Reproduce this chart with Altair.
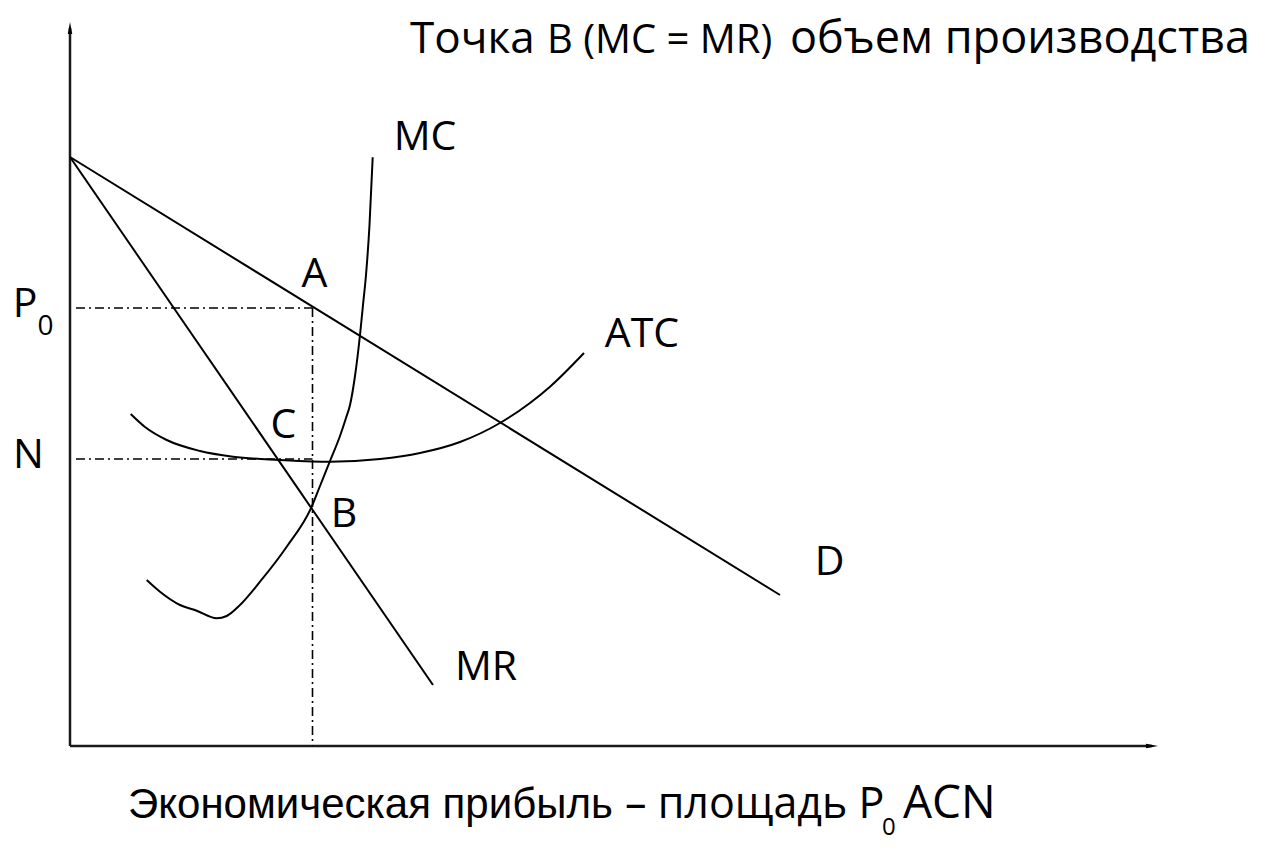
import altair as alt
import pandas as pd

# ---- data (Q = quantity, P = price; origin at the axes corner) ----
d_q = [0.0, 71.0]
d_p = [58.9, 15.1]
mr_q = [0.0, 36.3]
mr_p = [58.9, 6.1]
mc_q = [7.67, 9.0, 11.0, 12.67, 14.67, 15.67, 17.0, 19.0, 21.67, 24.17,
        25.0, 26.0, 27.0, 27.6, 28.0, 28.5, 29.0, 29.3, 29.6, 29.95, 30.27]
mc_p = [16.6, 15.43, 14.1, 13.53, 12.77, 13.0, 14.1, 16.43, 19.93, 23.93,
        26.0, 28.5, 31.0, 32.8, 34.1, 37.0, 41.1, 44.1, 47.1, 52.1, 58.87]
atc_q = [6.07, 7.5, 9.67, 13.0, 16.3, 20.9, 24.2, 26.0, 31.0, 35.0, 39.0,
         43.0, 46.0, 48.0, 51.4]
atc_p = [33.2, 31.9, 30.6, 29.5, 28.93, 28.6, 28.45, 28.43, 28.7, 29.3,
         30.4, 32.3, 34.3, 35.93, 39.3]
q_star = 24.25
p0_level = 43.8
n_level = 28.7
guide_start = 0.6
axis_q_end = 108.2
axis_p_end = 71.8

curve_labels = ["MC", "A", "P", "N", "C", "B", "MR", "ATC", "D"]
curve_label_q = [35.5, 24.45, -4.5, -4.15, 21.35, 27.4, 41.6, 57.2, 75.95]
curve_label_p = [59.6, 45.9, 42.9, 27.8, 30.8, 21.9, 6.6, 39.9, 17.1]

sub_labels = ["0"]
sub_label_q = [-2.45]
sub_label_p = [41.1]

title_parts = ["Точка", "B (MC = MR)", "объем производства"]
title_q = [34.0, 47.7, 72.0]
title_p = [69.3, 69.3, 69.3]
title_sizes = [44, 40, 45]

bottom_parts = ["Экономическая прибыль", "– площадь P", "ACN"]
bottom_q = [5.8, 55.5, 83.3]
bottom_p = [-7.2, -7.2, -7.2]
bottom_fonts = ["Liberation Sans", "Open Sans", "Open Sans"]
bottom_sizes = [42, 43, 46]
bottom_sub = "0"
bottom_sub_q = [81.2]
bottom_sub_p = [-8.9]

# ---- scales (fixed, so the diagram keeps its geometry) ----
xs = alt.Scale(domain=[-6.2, 118.8], nice=False, zero=False)
ys = alt.Scale(domain=[-10.8, 73.8], nice=False, zero=False)
X = lambda f: alt.X(f, type="quantitative", scale=xs, axis=None)
Y = lambda f: alt.Y(f, type="quantitative", scale=ys, axis=None)


def line_df(qs, ps):
    return pd.DataFrame({"q": qs, "p": ps, "i": list(range(len(qs)))})


def curve(qs, ps, interp="linear"):
    return alt.Chart(line_df(qs, ps)).mark_line(
        color="black", strokeWidth=2, interpolate=interp
    ).encode(x=X("q"), y=Y("p"), order="i:Q")


layers = []

# axes
axes_df = pd.DataFrame({
    "q": [0.0, 0.0], "p": [0.0, 0.0],
    "q2": [0.0, axis_q_end], "p2": [axis_p_end, 0.0],
})
layers.append(alt.Chart(axes_df).mark_rule(color="#1a1a1a", strokeWidth=2.5).encode(
    x=X("q"), y=Y("p"), x2="q2", y2="p2"))
layers.append(alt.Chart(pd.DataFrame({"q": [0.0], "p": [axis_p_end]})).mark_point(
    shape="M0,-1L0.375,1L-0.375,1Z", size=144, filled=True, color="black", opacity=1
).encode(x=X("q"), y=Y("p")))
layers.append(alt.Chart(pd.DataFrame({"q": [axis_q_end], "p": [0.0]})).mark_point(
    shape="M1,0L-1,-0.375L-1,0.375Z", size=144, filled=True, color="black", opacity=1
).encode(x=X("q"), y=Y("p")))

# dash-dot guides
guides_df = pd.DataFrame({
    "q": [guide_start, guide_start, q_star],
    "p": [p0_level, n_level, p0_level],
    "q2": [q_star, q_star, q_star],
    "p2": [p0_level, n_level, 0.0],
})
layers.append(alt.Chart(guides_df).mark_rule(
    color="black", strokeWidth=1.6, strokeDash=[9, 4, 2, 4]
).encode(x=X("q"), y=Y("p"), x2="q2", y2="p2"))

# curves
layers.append(curve(d_q, d_p))
layers.append(curve(mr_q, mr_p))
layers.append(curve(mc_q, mc_p, "monotone"))
layers.append(curve(atc_q, atc_p, "monotone"))

# labels
lab_df = pd.DataFrame({"q": curve_label_q, "p": curve_label_p, "t": curve_labels})
layers.append(alt.Chart(lab_df).mark_text(
    font="Open Sans", fontSize=41, align="center", baseline="alphabetic", color="black"
).encode(x=X("q"), y=Y("p"), text="t:N"))
sub_df = pd.DataFrame({"q": sub_label_q, "p": sub_label_p, "t": sub_labels})
layers.append(alt.Chart(sub_df).mark_text(
    font="Open Sans", fontSize=28, align="center", baseline="alphabetic", color="black"
).encode(x=X("q"), y=Y("p"), text="t:N"))

# title pieces
for t, q, p, s in zip(title_parts, title_q, title_p, title_sizes):
    layers.append(alt.Chart(pd.DataFrame({"q": [q], "p": [p], "t": [t]})).mark_text(
        font="Open Sans", fontSize=s, align="left", baseline="alphabetic", color="black"
    ).encode(x=X("q"), y=Y("p"), text="t:N"))

# bottom caption pieces
for t, q, p, f, s in zip(bottom_parts, bottom_q, bottom_p, bottom_fonts, bottom_sizes):
    layers.append(alt.Chart(pd.DataFrame({"q": [q], "p": [p], "t": [t]})).mark_text(
        font=f, fontSize=s, align="left", baseline="alphabetic", color="black"
    ).encode(x=X("q"), y=Y("p"), text="t:N"))
layers.append(alt.Chart(pd.DataFrame({"q": bottom_sub_q, "p": bottom_sub_p, "t": [bottom_sub]})).mark_text(
    font="Open Sans", fontSize=24, align="left", baseline="alphabetic", color="black"
).encode(x=X("q"), y=Y("p"), text="t:N"))

chart = alt.layer(*layers).properties(
    width=1250, height=846, autosize=alt.AutoSizeParams(type="none"), padding=0,
    background="white",
).configure_view(stroke=None)

chart.save("out.html", embed_options={"renderer": "svg", "actions": False})
